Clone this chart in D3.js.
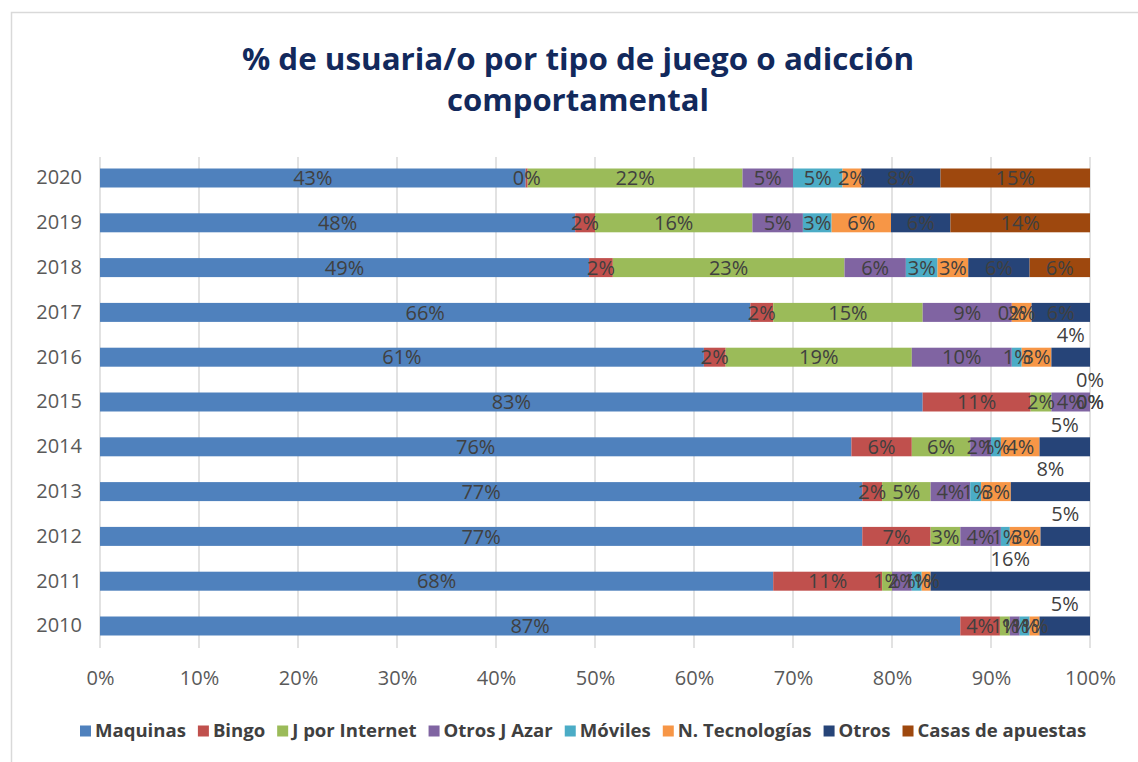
<!DOCTYPE html>
<html>
<head>
<meta charset="utf-8">
<script src="https://cdn.jsdelivr.net/npm/d3@7"></script>
<style>
  body { margin: 0; background: #fff; }
  svg { display: block; }
</style>
</head>
<body>
<svg id="chart"></svg>
<script>
const years = ["2010", "2011", "2012", "2013", "2014", "2015", "2016", "2017", "2018", "2019", "2020"];
const series = ["Maquinas", "Bingo", "J por Internet", "Otros J Azar", "Móviles", "N. Tecnologías", "Otros", "Casas de apuestas"];

// valores en % por año (2010 ... 2020)
const maquinas  = [86.9, 68.0, 77.0, 77.0, 75.9, 83.1, 61.0, 65.7, 49.4, 48.0, 43.0];
const bingo     = [4.0, 11.0, 6.9, 2.0, 6.1, 10.9, 2.2, 2.3, 2.4, 2.0, 0.2];
const jInternet = [1.0, 1.0, 3.0, 4.9, 5.9, 2.1, 18.8, 15.1, 23.4, 15.9, 21.7];
const otrosAzar = [1.0, 2.0, 4.1, 4.0, 2.1, 3.9, 10.1, 9.0, 6.2, 5.1, 5.1];
const moviles   = [1.0, 1.0, 0.9, 1.1, 1.0, 0, 1.0, 0, 3.2, 2.9, 5.0];
const nuevasTec = [1.0, 0.9, 3.1, 3.0, 3.9, 0, 3.0, 2.0, 3.1, 6.0, 1.9];
const otros     = [5.1, 16.1, 5.0, 8.0, 5.1, 0, 3.9, 5.9, 6.2, 6.0, 8.0];
const casas     = [null, null, null, null, null, null, null, null, 6.1, 14.1, 15.1];

const xTicks = [0, 10, 20, 30, 40, 50, 60, 70, 80, 90, 100];
const titleLines = ["% de usuaria/o por tipo de juego o adicción", "comportamental"];

// etiquetas de "Otros" que Excel dejó desplazadas encima de la barra
const raisedOtros = ["2010", "2011", "2012", "2013", "2014", "2015", "2016"];

const colors = ["#4f81bd", "#c0504d", "#9bbb59", "#8064a2", "#4bacc6", "#f79646", "#264478", "#9e480e"];

const valuesBySeries = [maquinas, bingo, jInternet, otrosAzar, moviles, nuevasTec, otros, casas];

const table = years.map((year, i) => {
  const row = { year };
  series.forEach((s, j) => { row[s] = valuesBySeries[j][i]; });
  return row;
});

function drawChart() {
  const width = 1138, height = 762;
  const svg = d3.select("#chart").attr("width", width).attr("height", height);
  svg.selectAll("*").remove();

  // marco del gráfico
  svg.append("rect")
    .attr("x", 11.5).attr("y", 12.5)
    .attr("width", 1140).attr("height", 760)
    .attr("fill", "#fff")
    .attr("stroke", "#d9d9d9")
    .attr("stroke-width", 1.5);

  // título
  svg.append("g")
    .selectAll("text")
    .data(titleLines)
    .enter()
    .append("text")
    .attr("x", 578)
    .attr("y", (d, i) => 70 + i * 41)
    .attr("text-anchor", "middle")
    .style("font-family", "'Open Sans', sans-serif")
    .style("font-weight", "bold")
    .style("font-size", "30px")
    .style("fill", "#12295c")
    .attr("textLength", (d, i) => i === 0 ? 672 : 262)
    .attr("lengthAdjust", "spacingAndGlyphs")
    .text(d => d);

  const x = d3.scaleLinear().domain([0, 100]).range([100, 1090]);
  const y = d3.scaleBand()
    .domain(years.slice().reverse())
    .range([155.6, 648.4])
    .paddingInner(0.576)
    .paddingOuter(0.288);

  // rejilla vertical
  svg.append("g")
    .selectAll("line")
    .data(xTicks)
    .enter()
    .append("line")
    .attr("x1", d => x(d)).attr("x2", d => x(d))
    .attr("y1", 157).attr("y2", 648)
    .attr("stroke", "#d9d9d9")
    .attr("stroke-width", 1.5);

  // eje x
  const xAxis = svg.append("g")
    .attr("transform", "translate(0,648)")
    .call(d3.axisBottom(x).tickValues(xTicks).tickFormat(d => d + "%").tickSize(0).tickPadding(23));
  xAxis.select(".domain").remove();
  xAxis.selectAll("text")
    .style("font-family", "'Open Sans', sans-serif")
    .style("font-size", "20px")
    .style("fill", "#595959");

  // eje y
  const yAxis = svg.append("g")
    .attr("transform", "translate(100,0)")
    .call(d3.axisLeft(y).tickSize(0).tickPadding(18));
  yAxis.select(".domain").remove();
  yAxis.selectAll("text")
    .style("font-family", "'Open Sans', sans-serif")
    .style("font-size", "20px")
    .style("fill", "#595959");

  const stacked = d3.stack()
    .keys(series)
    .value((d, key) => d[key] || 0)(table);

  const layers = svg.append("g")
    .selectAll("g")
    .data(stacked)
    .enter()
    .append("g")
    .attr("fill", (d, i) => colors[i]);

  layers.selectAll("rect")
    .data(d => d)
    .enter()
    .append("rect")
    .attr("x", d => x(d[0]))
    .attr("y", d => y(d.data.year))
    .attr("width", d => x(d[1]) - x(d[0]))
    .attr("height", y.bandwidth());

  // etiquetas de datos
  const labels = [];
  stacked.forEach(layer => {
    layer.forEach(d => {
      const v = d.data[layer.key];
      if (v === null || v === undefined) return;
      const raised = layer.key === "Otros" && raisedOtros.includes(d.data.year);
      labels.push({
        x: x((d[0] + d[1]) / 2),
        y: y(d.data.year) + y.bandwidth() / 2 - (raised ? y.step() / 2 : 0),
        text: Math.round(v) + "%"
      });
    });
  });

  svg.append("g")
    .selectAll("text")
    .data(labels)
    .enter()
    .append("text")
    .attr("x", d => d.x)
    .attr("y", d => d.y)
    .attr("dy", "0.36em")
    .attr("text-anchor", "middle")
    .style("font-family", "'Open Sans', sans-serif")
    .style("font-size", "20px")
    .style("fill", "#404040")
    .text(d => d.text);

  drawLegend(svg);
}

function drawLegend(svg) {
  const box = 11, gapText = 4, gapItem = 12;
  const left = 80, right = 1087, cy = 731;

  const g = svg.append("g");
  const items = g.selectAll("g")
    .data(series)
    .enter()
    .append("g");

  items.append("rect")
    .attr("width", box).attr("height", box)
    .attr("y", cy - box / 2)
    .attr("fill", (d, i) => colors[i]);

  const texts = items.append("text")
    .attr("y", cy)
    .attr("dy", "0.35em")
    .style("font-family", "'Open Sans', sans-serif")
    .style("font-weight", "bold")
    .style("font-size", "16px")
    .style("fill", "#404040")
    .text(d => d);

  // ajustar el tamaño para ocupar el mismo ancho que el original
  let textSum = 0;
  texts.each(function () { textSum += this.getComputedTextLength(); });
  const fixed = series.length * (box + gapText) + (series.length - 1) * gapItem;
  const scale = (right - left - fixed) / textSum;
  texts.style("font-size", (16 * scale) + "px");

  let cursor = left;
  items.each(function () {
    const item = d3.select(this);
    const t = item.select("text");
    item.select("rect").attr("x", cursor);
    t.attr("x", cursor + box + gapText);
    cursor += box + gapText + t.node().getComputedTextLength() + gapItem;
  });
}

drawChart();
</script>
</body>
</html>
